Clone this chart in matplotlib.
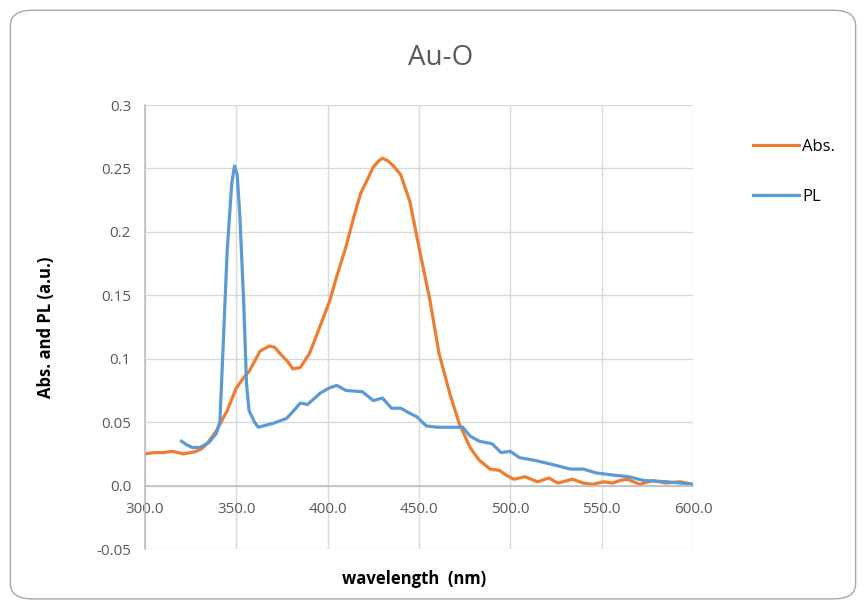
import matplotlib
matplotlib.use("Agg")
import matplotlib.pyplot as plt
from matplotlib.patches import FancyBboxPatch

# -------------------------------
# Data
# -------------------------------
abs_wl = [300, 305, 310, 315, 321, 325, 328, 331, 334, 339, 345, 350, 354, 357, 360,
          363, 368, 371, 374, 378, 381, 385, 390, 393, 397, 401, 405, 410, 414, 418,
          422, 425, 428, 430, 433, 436, 440, 445, 450, 456, 461, 467, 472, 478, 483,
          489, 494, 498, 502, 508, 515, 521, 526, 534, 540, 545, 551, 556, 560, 564,
          571, 578, 585, 593, 600]
abs_val = [0.025, 0.026, 0.026, 0.027, 0.025, 0.026, 0.027, 0.029, 0.033, 0.043, 0.059, 0.077, 0.085, 0.090, 0.098,
           0.106, 0.110, 0.109, 0.104, 0.098, 0.092, 0.093, 0.104, 0.115, 0.130, 0.145, 0.165, 0.188, 0.210, 0.230,
           0.242, 0.251, 0.256, 0.258, 0.256, 0.252, 0.245, 0.224, 0.188, 0.146, 0.104, 0.072, 0.049, 0.030, 0.020,
           0.013, 0.012, 0.008, 0.005, 0.007, 0.003, 0.006, 0.002, 0.005, 0.002, 0.001, 0.003, 0.002, 0.004, 0.005,
           0.001, 0.004, 0.002, 0.003, 0.001]

pl_wl = [320, 323, 326, 330, 335, 339, 341, 342.5, 345, 347.5, 349, 350.5, 352, 354, 355.6,
         357, 360, 362, 370, 377.6, 382, 385, 389, 393, 396, 401, 405, 410, 419, 425,
         430, 435, 440, 445, 449, 454, 460, 467, 474, 478, 483, 490, 495, 500, 505,
         513, 522, 533, 540, 547, 558, 565, 573, 586, 600]
pl_val = [0.035, 0.032, 0.030, 0.030, 0.034, 0.041, 0.050, 0.100, 0.185, 0.238, 0.252, 0.245, 0.211, 0.146, 0.080,
          0.059, 0.050, 0.046, 0.049, 0.053, 0.060, 0.065, 0.064, 0.069, 0.073, 0.077, 0.079, 0.075, 0.074, 0.067,
          0.069, 0.061, 0.061, 0.057, 0.054, 0.047, 0.046, 0.046, 0.046, 0.039, 0.035, 0.033, 0.026, 0.027, 0.022,
          0.020, 0.017, 0.013, 0.013, 0.010, 0.008, 0.007, 0.004, 0.003, 0.001]

x_ticks = [300, 350, 400, 450, 500, 550, 600]
y_ticks = [-0.05, 0, 0.05, 0.1, 0.15, 0.2, 0.25, 0.3]
y_tick_labels = ["-0.05", "0.0", "0.05", "0.1", "0.15", "0.2", "0.25", "0.3"]

# -------------------------------
# Figure
# -------------------------------
plt.rcParams["font.family"] = ["Open Sans", "DejaVu Sans"]
fig = plt.figure(figsize=(8.66, 6.08), dpi=100)

# rounded chart frame
frame = FancyBboxPatch((0.012, 0.015), 0.976, 0.968, boxstyle="round,pad=0,rounding_size=0.025",
                       transform=fig.transFigure, facecolor="none", edgecolor="#a6a6a6",
                       linewidth=1.0, zorder=-10)
fig.patches.append(frame)

ax = fig.add_axes([0.1674, 0.097, 0.6328, 0.7303])
ax.set_facecolor("none")

ax.plot(abs_wl, abs_val, color="#ED7D31", linewidth=2.3, label="Abs.")
ax.plot(pl_wl, pl_val, color="#5B9BD5", linewidth=2.3, label="PL")

ax.set_xlim(300, 600)
ax.set_ylim(-0.05, 0.3)
ax.set_xticks(x_ticks)
ax.set_xticklabels([f"{v:.1f}" for v in x_ticks])
ax.set_yticks(y_ticks)
ax.set_yticklabels(y_tick_labels)

ax.grid(True, color="#d9d9d9", linewidth=1.0)
ax.set_axisbelow(True)

for side in ["top", "right"]:
    ax.spines[side].set_visible(False)
ax.spines["bottom"].set_position(("data", 0))
ax.spines["bottom"].set_color("#bfbfbf")
ax.spines["left"].set_color("#bfbfbf")
ax.spines["bottom"].set_linewidth(1.2)
ax.spines["left"].set_linewidth(1.2)

ax.tick_params(axis="both", length=0, labelsize=11, colors="#595959")
ax.tick_params(axis="x", pad=12)
ax.tick_params(axis="y", pad=10)

fig.text(0.509, 0.905, "Au-O", fontsize=20, color="#595959", ha="center", va="center")
ax.set_ylabel("Abs. and PL (a.u.)", fontsize=12, fontweight="bold", labelpad=30)
fig.text(0.478, 0.048, "wavelength  (nm)", fontsize=12, fontweight="bold", ha="center", va="center")

ax.legend(loc="upper left", bbox_to_anchor=(0.852, 0.796), bbox_transform=fig.transFigure,
          frameon=False, fontsize=12, handlelength=2.8, handletextpad=0.15, labelspacing=2.05)

plt.savefig("out.png", dpi=100)
